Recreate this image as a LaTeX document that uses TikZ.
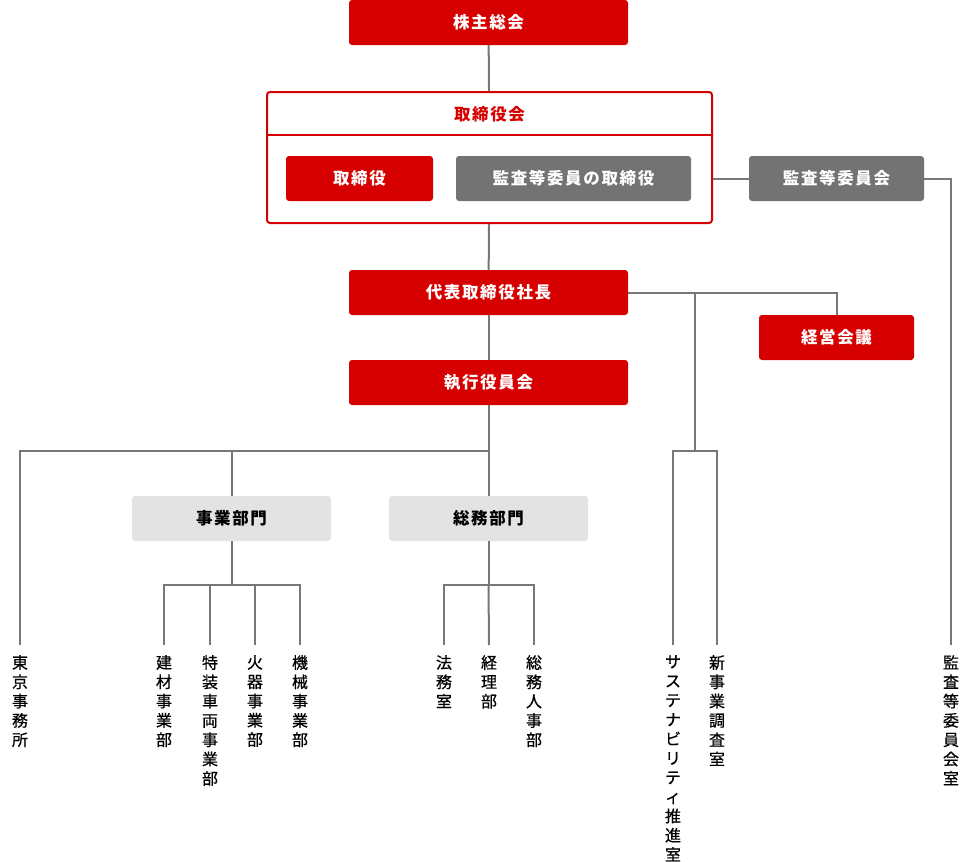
\documentclass[tikz,border=0pt]{standalone}
\usepackage{fontspec}
\setmainfont{Noto Sans CJK JP}
\newfontfamily\boxfont[LetterSpace=10]{Noto Sans CJK JP}
\newfontfamily\tatefont[FakeBold=0.6]{Noto Sans CJK JP}
\usepackage{tikz}
\usetikzlibrary{positioning}
\definecolor{brandred}{HTML}{D70000}
\definecolor{boxgray}{HTML}{737373}
\definecolor{linegray}{HTML}{777777}
\definecolor{palegray}{HTML}{E3E3E3}
\tikzset{
	redbox/.style={rectangle, rounded corners=3pt, fill=brandred, text=white, font=\boxfont\fontsize{16.5}{16.5}\selectfont\bfseries, minimum height=45pt, inner sep=0pt},
	graybox/.style={redbox, fill=boxgray},
	palebox/.style={redbox, fill=palegray, text=black},
	tate/.style={inner sep=0pt, anchor=north, align=center, font=\tatefont\fontsize{16}{19.3}\selectfont},
	link/.style={draw=linegray, line width=2pt},
}

\begin{document}
\begin{tikzpicture}[x=1pt, y=-1pt]
			\useasboundingbox (0,0) rectangle (972,862);
			% boxes
			\node[redbox, minimum width=279pt] (agm) at (488.5,22.5) {株主総会};
			\node[rectangle, draw=brandred, line width=2pt, rounded corners=3pt, minimum width=445pt, minimum height=131pt, inner sep=0pt] (bod) at (489.5,157.5) {};
			\node[text=brandred, font=\boxfont\fontsize{16.5}{16.5}\selectfont\bfseries] (bodt) at (489.5,114) {取締役会};
			\coordinate (bodline) at (489.5,135);
			\draw[brandred, line width=2pt] (bod.west |- bodline) -- (bod.east |- bodline);
			\node[redbox, minimum width=147pt] (dir) at (359.5,178.5) {取締役};
			\node[graybox, minimum width=235pt] (acdir) at (573.5,178.5) {監査等委員の取締役};
			\node[graybox, minimum width=175pt] (ac) at (836.5,178.5) {監査等委員会};
			\node[redbox, minimum width=279pt] (pres) at (488.5,292.5) {代表取締役社長};
			\node[redbox, minimum width=155pt] (mc) at (836.5,337.5) {経営会議};
			\node[redbox, minimum width=279pt] (exec) at (488.5,382.5) {執行役員会};
			\node[palebox, minimum width=199pt] (jigyo) at (231.5,518.5) {事業部門};
			\node[palebox, minimum width=199pt] (somu) at (488.5,518.5) {総務部門};
			% vertical labels
			\node[tate] (tokyo) at (20,655) {東\\京\\事\\務\\所};
			\node[tate] (kenzai) at (164,655) {建\\材\\事\\業\\部};
			\node[tate] (tokuso) at (210,655) {特\\装\\車\\両\\事\\業\\部};
			\node[tate] (kaki) at (255,655) {火\\器\\事\\業\\部};
			\node[tate] (kikai) at (300,655) {機\\械\\事\\業\\部};
			\node[tate] (homu) at (444,655) {法\\務\\室};
			\node[tate] (keiri) at (489,655) {経\\理\\部};
			\node[tate] (jinji) at (534,655) {総\\務\\人\\事\\部};
			\node[tate] (sus) at (673,655) {サ\\ス\\テ\\ナ\\ビ\\リ\\テ\\ィ\\推\\進\\室};
			\node[tate] (shinki) at (717,655) {新\\事\\業\\調\\査\\室};
			\node[tate] (acroom) at (951,655) {監\\査\\等\\委\\員\\会\\室};
			% connectors
			\coordinate (b1) at (695,451);
			\coordinate (b2) at (488.5,451);
			\coordinate (b3) at (231.5,585);
			\coordinate (b4) at (488.5,585);
			\draw[link] (agm) -- (bod);
			\draw[link] (bod.east |- ac.west) -- (ac.west);
			\draw[link] (ac.east) -| ([yshift=10pt]acroom.north);
			\draw[link] (bod) -- (pres);
			\draw[link] (pres.east) -| (mc.north);
			\draw[link] (pres.east -| b1) -- (b1);
			\draw[link] ([yshift=10pt]sus.north) |- (b1) -| ([yshift=10pt]shinki.north);
			\draw[link] (pres) -- (exec);
			\draw[link] (exec) -- (somu);
			\draw[link] ([yshift=10pt]tokyo.north) |- (b2);
			\draw[link] (jigyo.north |- b2) -- (jigyo.north);
			\draw[link] (jigyo) -- (b3);
			\draw[link] ([yshift=10pt]kenzai.north) |- (b3) -| ([yshift=10pt]kikai.north);
			\draw[link] (b3 -| tokuso.north) -- ([yshift=10pt]tokuso.north);
			\draw[link] (b3 -| kaki.north) -- ([yshift=10pt]kaki.north);
			\draw[link] (somu) -- (b4);
			\draw[link] ([yshift=10pt]homu.north) |- (b4) -| ([yshift=10pt]jinji.north);
			\draw[link] (b4) -- ([yshift=10pt]keiri.north);
		\end{tikzpicture}
\end{document}
